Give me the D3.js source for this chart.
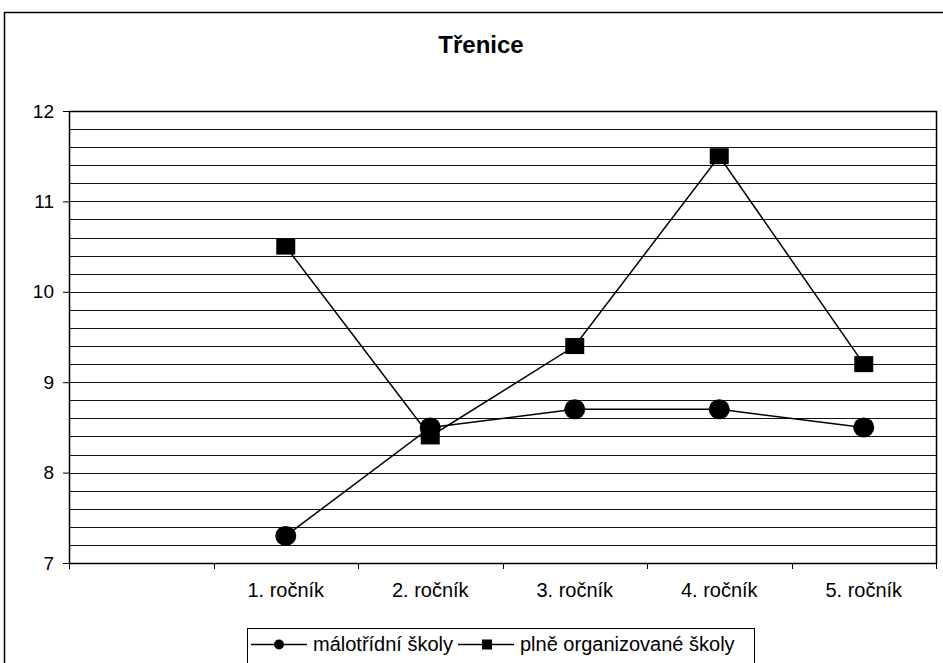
<!DOCTYPE html>
<html>
<head>
<meta charset="utf-8">
<script src="https://cdn.jsdelivr.net/npm/d3@7"></script>
<style>
	body { margin: 0; background: #fff; }
	svg { display: block; font-family: "Liberation Sans", Arial, sans-serif; }
</style>
</head>
<body>
<div class="chart"></div>
<script>

	var categories = ["", "1. ročník", "2. ročník", "3. ročník", "4. ročník", "5. ročník"];

	var maloTridni = [null, 7.3, 8.5, 8.7, 8.7, 8.5];
	var plneOrganizovane = [null, 10.5, 8.4, 9.4, 11.5, 9.2];

	var seriesNames = ["málotřídní školy", "plně organizované školy"];

	var yTicks = [7, 8, 9, 10, 11, 12];

	var W = 943, H = 663;

	var margin = {
			top: 111,
			right: 7,
			bottom: 100,
			left: 69
		},
		width = W - margin.left - margin.right,
		height = H - margin.top - margin.bottom + 52;

	// plot bottom ends at y=563
	height = 563 - margin.top;

	var svg = d3.select(".chart").append("svg")
		.attr("width", W)
		.attr("height", H);

	// outer chart frame (runs off the picture on right / bottom)
	svg.append("rect")
		.attr("x", 4.5)
		.attr("y", 12.5)
		.attr("width", 960)
		.attr("height", 700)
		.attr("fill", "#fff")
		.attr("stroke", "#000")
		.attr("stroke-width", 1.5);

	svg.append("text")
		.attr("x", 481)
		.attr("y", 53)
		.attr("text-anchor", "middle")
		.style("font-size", "24px")
		.style("font-weight", "bold")
		.text("Třenice");

	var g = svg.append("g")
		.attr("transform", "translate(" + margin.left + "," + margin.top + ")");

	var x = d3.scaleBand().domain(categories.map(function (d, i) { return i; })).range([0, width]);
	var y = d3.scaleLinear().domain([7, 12]).range([height, 0]);

	// gridlines every 0.2
	var grid = d3.range(7, 12.0001, 0.2);
	g.append("g")
		.selectAll("line")
		.data(grid)
		.enter().append("line")
		.attr("x1", 0)
		.attr("x2", width)
		.attr("y1", function (d) { return Math.round(y(d)) + 0.5; })
		.attr("y2", function (d) { return Math.round(y(d)) + 0.5; })
		.attr("stroke", "#111")
		.attr("stroke-width", 1);

	g.append("rect")
		.attr("x", 0.5)
		.attr("y", 0.5)
		.attr("width", width)
		.attr("height", height)
		.attr("fill", "none")
		.attr("stroke", "#000")
		.attr("stroke-width", 1.5);

	var yAxis = d3.axisLeft(y).tickValues(yTicks).tickSize(6).tickPadding(9).tickFormat(d3.format("d"));
	var ya = g.append("g").call(yAxis);
	ya.select(".domain").remove();
	ya.selectAll("text").style("font-size", "19px").attr("fill", "#000");

	// x ticks on category boundaries
	var bounds = d3.range(0, categories.length + 1);
	g.append("g")
		.selectAll("line")
		.data(bounds)
		.enter().append("line")
		.attr("x1", function (d) { return Math.round(d * x.step()) + 0.5; })
		.attr("x2", function (d) { return Math.round(d * x.step()) + 0.5; })
		.attr("y1", height)
		.attr("y2", height + 6)
		.attr("stroke", "#000");

	g.append("g")
		.selectAll("text")
		.data(categories)
		.enter().append("text")
		.attr("x", function (d, i) { return x(i) + x.bandwidth() / 2; })
		.attr("y", height + 34)
		.attr("text-anchor", "middle")
		.style("font-size", "20px")
		.text(function (d) { return d; });

	var line = d3.line()
		.defined(function (d) { return d != null; })
		.x(function (d, i) { return x(i) + x.bandwidth() / 2; })
		.y(function (d) { return y(d); });

	[maloTridni, plneOrganizovane].forEach(function (s) {
		g.append("path")
			.datum(s)
			.attr("d", line)
			.attr("fill", "none")
			.attr("stroke", "#000")
			.attr("stroke-width", 1.5);
	});

	function pts(s) {
		return s.map(function (v, i) { return { v: v, i: i }; }).filter(function (d) { return d.v != null; });
	}

	g.selectAll(".dot")
		.data(pts(maloTridni))
		.enter().append("ellipse")
		.attr("class", "dot")
		.attr("cx", function (d) { return x(d.i) + x.bandwidth() / 2; })
		.attr("cy", function (d) { return y(d.v); })
		.attr("rx", 10.5)
		.attr("ry", 10)
		.attr("fill", "#000");

	g.selectAll(".sq")
		.data(pts(plneOrganizovane))
		.enter().append("rect")
		.attr("class", "sq")
		.attr("x", function (d) { return x(d.i) + x.bandwidth() / 2 - 9.5; })
		.attr("y", function (d) { return y(d.v) - 8; })
		.attr("width", 19)
		.attr("height", 16)
		.attr("fill", "#000");

	// legend
	var legend = svg.append("g");
	legend.append("rect")
		.attr("x", 247.5)
		.attr("y", 628.5)
		.attr("width", 507)
		.attr("height", 60)
		.attr("fill", "#fff")
		.attr("stroke", "#000");

	var items = [
		{ x: 251, name: seriesNames[0], type: "circle" },
		{ x: 458, name: seriesNames[1], type: "square" }
	];

	items.forEach(function (it) {
		legend.append("line")
			.attr("x1", it.x)
			.attr("x2", it.x + 56)
			.attr("y1", 644.5)
			.attr("y2", 644.5)
			.attr("stroke", "#000")
			.attr("stroke-width", 1.5);
		if (it.type === "circle") {
			legend.append("circle")
				.attr("cx", it.x + 28)
				.attr("cy", 644.5)
				.attr("r", 5)
				.attr("fill", "#000");
		} else {
			legend.append("rect")
				.attr("x", it.x + 24)
				.attr("y", 639.5)
				.attr("width", 10)
				.attr("height", 10)
				.attr("fill", "#000");
		}
		legend.append("text")
			.attr("x", it.x + 62)
			.attr("y", 651)
			.style("font-size", "20px")
			.text(it.name);
	});

</script>
</body>
</html>
